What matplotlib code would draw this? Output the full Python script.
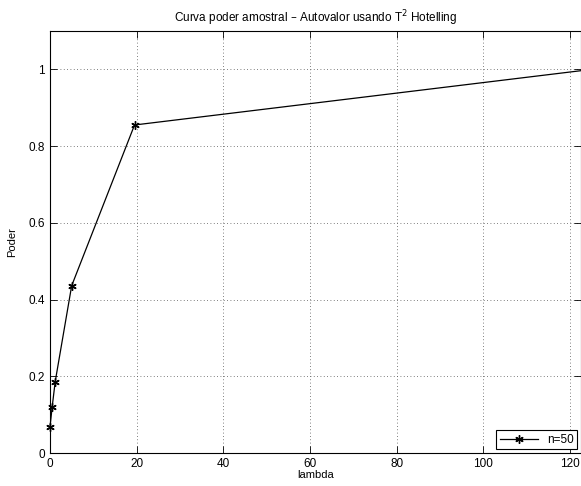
import matplotlib
matplotlib.use('Agg')
import matplotlib.pyplot as plt

# valores
lambdas = [0, 0.5, 1.2, 5, 19.5, 125]
poder = [0.068, 0.12, 0.186, 0.436, 0.855, 1.0]
xticks = [0, 20, 40, 60, 80, 100, 120]
yticks = [0, 0.2, 0.4, 0.6, 0.8, 1.0]
ytick_labels = ['0', '0.2', '0.4', '0.6', '0.8', '1']

plt.rcParams['font.family'] = ['Liberation Sans', 'DejaVu Sans']

fig = plt.figure(figsize=(5.81, 4.86), dpi=100)
ax = fig.add_axes([50 / 581, 33 / 486, 1 - 50 / 581, (453 - 31) / 486])

ax.plot(lambdas, poder, color='black', lw=0.9, marker=(6, 2, 0), ms=6,
        mew=1.0, label='n=50', clip_on=False)

ax.set_xlim(0, 122.5)
ax.set_ylim(0, 1.1)
ax.set_xticks(xticks)
ax.set_yticks(yticks)
ax.set_yticklabels(ytick_labels)
ax.tick_params(direction='in', top=True, right=True, labelsize=8.5, length=5, width=0.6)
ax.grid(True, linestyle=(0, (1, 3)), color='#555555', lw=0.6)
for s in ax.spines.values():
    s.set_linewidth(0.8)

ax.set_xlabel('lambda', fontsize=8, labelpad=0)
ax.set_ylabel('Poder', fontsize=8, labelpad=8)
ax.set_title('Curva poder amostral \u2013 Autovalor usando T$^2$ Hotelling', fontsize=8.5, pad=6)

leg = ax.legend(loc='lower right', fontsize=8.5, fancybox=False, framealpha=1,
                edgecolor='black', borderaxespad=0.3, handlelength=3.2,
                borderpad=0.3)
leg.get_frame().set_linewidth(0.8)

fig.savefig('out.png', dpi=100)
